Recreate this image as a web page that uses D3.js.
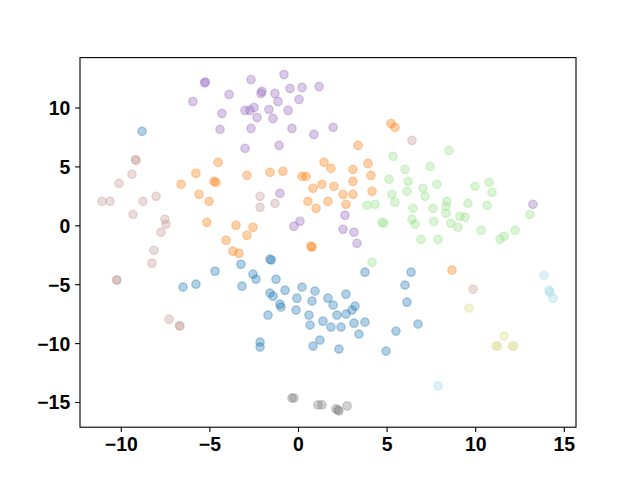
<!DOCTYPE html>
<html>
<head>
<meta charset="utf-8">
<script src="https://cdn.jsdelivr.net/npm/d3@7"></script>
<style>
  body { margin: 0; background: #fff; }
  .tick text { font-family: "Liberation Sans", Arial, sans-serif; font-weight: bold; font-size: 19.4px; fill: #000; }
</style>
</head>
<body>
<div id="chart"></div>
<script>
// cluster points, [x, y]
var blueCluster = [[-8.80,7.97],[-4.68,-3.90],[-3.22,-3.31],[-6.49,-5.25],[-5.76,-5.00],[-3.16,-5.17],
  [-1.58,-2.88],[-1.50,-2.95],[-2.54,-4.15],[-2.37,-4.58],[-1.24,-4.58],[-1.58,-5.76],[-1.41,-6.02],
  [-0.73,-5.51],[0.23,-5.25],[0.96,-5.59],[-0.06,-6.19],[0.79,-6.44],[1.69,-6.19],[1.98,-6.78],
  [2.71,-5.85],[-1.02,-6.70],[-0.96,-6.95],[-0.11,-7.20],[-1.69,-7.63],[0.62,-7.63],[1.41,-8.14],
  [2.20,-7.63],[2.71,-7.54],[3.05,-7.20],[3.22,-6.86],[0.68,-8.47],[1.86,-8.64],[2.43,-8.64],
  [3.16,-8.31],[3.44,-9.24],[-2.14,-9.92],[-2.14,-10.34],[1.24,-9.75],[0.85,-10.25],[2.31,-10.51],
  [3.78,-3.98],[6.38,-3.98],[6.04,-5.08],[6.15,-6.53],[3.78,-8.22],[5.53,-8.98],[6.77,-8.39],[4.97,-10.68]];

var orangeCluster = [[-4.51,5.34],[-5.76,4.41],[-4.74,3.73],[-4.63,3.64],[-6.60,3.47],[-2.88,4.24],
  [5.25,8.64],[5.47,8.31],[3.39,6.78],[1.47,5.34],[1.86,4.83],[3.10,4.75],[3.95,5.25],[-1.58,4.49],
  [-0.85,4.58],[0.23,4.15],[0.45,4.15],[3.10,3.73],[4.12,4.24],[0.85,3.14],[1.35,3.47],[2.03,3.31],
  [2.54,2.63],[3.10,2.63],[4.18,2.88],[0.56,2.03],[1.02,1.44],[1.69,2.03],[2.71,1.78],[-2.54,-0.17],
  [-2.88,-0.85],[0.73,-1.78],[0.79,-1.86],[-5.59,2.63],[-5.02,2.03],[-5.14,0.25],[-3.50,0.00],
  [-4.06,-1.27],[-3.67,-2.20],[-3.33,-2.37],[8.69,-3.81]];

var greenCluster = [[5.36,5.85],[8.52,6.36],[6.04,4.75],[7.45,5.00],[5.14,3.90],[6.21,3.73],[7.84,3.47],
  [7.05,3.14],[6.15,2.88],[5.30,2.63],[7.17,2.46],[5.47,1.95],[9.99,3.31],[10.78,3.64],[10.95,2.80],
  [8.41,2.03],[9.59,1.86],[10.67,1.69],[6.49,1.44],[7.62,1.44],[8.35,1.61],[8.35,1.02],[6.43,0.51],
  [6.60,0.08],[7.67,0.34],[8.63,0.17],[9.14,0.76],[9.42,0.68],[9.03,-0.17],[10.33,-0.42],[6.94,-1.19],
  [7.90,-1.19],[11.40,-1.19],[11.63,-0.93],[12.25,-0.42],[13.09,0.93],[3.89,1.69],[4.35,1.78],
  [4.74,0.25],[4.85,0.17],[4.18,-3.14]];

var purpleCluster = [[-5.22,12.15],[-5.28,12.10],[-3.89,11.10],[-5.93,10.51],[-4.29,9.49],[-4.40,8.14],
  [-2.65,12.37],[-0.79,12.80],[-2.03,11.36],[-2.09,11.19],[-1.30,11.19],[-0.45,11.61],[0.23,11.70],
  [1.19,11.78],[-1.13,10.51],[0.06,10.68],[-2.99,9.75],[-2.71,9.75],[-2.48,10.00],[-1.64,9.83],
  [-0.56,9.75],[-2.31,9.15],[-1.41,9.07],[-2.65,8.22],[-0.34,8.22],[0.90,7.71],[1.98,8.31],
  [-2.99,6.53],[-1.07,6.78],[-1.02,2.71],[0.11,0.34],[-0.23,-0.08],[2.65,0.85],[2.54,-0.34],
  [3.16,-0.59],[3.33,-1.53],[13.26,1.78]];

var brownCluster = [[-9.14,5.51],[-9.17,5.58],[-9.37,4.32],[-10.10,3.56],[-11.06,2.03],[-10.61,2.03],
  [-8.75,2.03],[-8.01,2.46],[-9.31,0.93],[-7.51,0.51],[-7.45,0.08],[-7.73,-0.59],[-8.13,-2.12],
  [-8.24,-3.22],[-10.21,-4.66],[-10.24,-4.63],[-2.14,2.46],[-2.14,1.53],[-1.30,1.86],[-7.28,-7.97],
  [-6.66,-8.56],[-6.69,-8.53],[6.43,7.20],[9.88,-5.42]];

var greyCluster = [[-0.34,-14.66],[-0.23,-14.66],[1.13,-15.25],[1.35,-15.25],[2.14,-15.59],
  [2.26,-15.68],[2.31,-15.76],[2.77,-15.34]];

var oliveCluster = [[9.65,-7.03],[11.63,-9.41],[11.17,-10.25],[11.29,-10.25],[12.08,-10.25],[12.19,-10.25]];

var cyanCluster = [[13.88,-4.24],[14.16,-5.51],[14.22,-5.68],[14.39,-6.19],[7.90,-13.64]];

var xTicks = [-10, -5, 0, 5, 10, 15];
var yTicks = [-15, -10, -5, 0, 5, 10];

var clusters = [
  { pts: blueCluster, color: "#1f77b4" },
  { pts: orangeCluster, color: "#ff7f0e" },
  { pts: greenCluster, color: "#98df8a" },
  { pts: purpleCluster, color: "#9467bd" },
  { pts: brownCluster, color: "#c49c94" },
  { pts: greyCluster, color: "#7f7f7f" },
  { pts: oliveCluster, color: "#dbdb8d" },
  { pts: cyanCluster, color: "#9edae5" }
];

var W = 640, H = 480;
var margin = { top: 57.6, right: 64, bottom: 52.8, left: 80 };

var svg = d3.select("#chart").append("svg")
    .attr("width", W)
    .attr("height", H);

var xScale = d3.scaleLinear()
    .domain([-12.302, 15.689])
    .range([margin.left, W - margin.right]);

var yScale = d3.scaleLinear()
    .domain([-17.139, 14.236])
    .range([H - margin.bottom, margin.top]);

var fmt = function (d) { return d < 0 ? "\u2212" + Math.abs(d) : "" + d; };

// points
var dots = svg.append("g").attr("class", "dots");
clusters.forEach(function (c) {
    dots.selectAll(null)
        .data(c.pts)
        .enter()
        .append("circle")
        .attr("cx", function (d) { return xScale(d[0]); })
        .attr("cy", function (d) { return yScale(d[1]); })
        .attr("r", 4.17)
        .attr("fill", c.color)
        .attr("fill-opacity", 0.35)
        .attr("stroke", c.color)
        .attr("stroke-opacity", 0.35)
        .attr("stroke-width", 1.39);
});

// axes
var xAxis = svg.append("g")
    .attr("transform", "translate(0," + (H - margin.bottom) + ")")
    .call(d3.axisBottom(xScale).tickValues(xTicks).tickFormat(fmt).tickSize(4.9).tickPadding(4.9));

var yAxis = svg.append("g")
    .attr("transform", "translate(" + margin.left + ",0)")
    .call(d3.axisLeft(yScale).tickValues(yTicks).tickFormat(fmt).tickSize(4.9).tickPadding(4.9));

[xAxis, yAxis].forEach(function (g) {
    g.select(".domain").remove();
    g.selectAll(".tick line").attr("stroke", "#000").attr("stroke-width", 1.1);
    g.selectAll(".tick text").attr("font-family", null).attr("font-size", null);
});
xAxis.selectAll(".tick text").attr("dy", "0.72em");
yAxis.selectAll(".tick text").attr("dy", "0.36em");

// frame
svg.append("rect")
    .attr("x", margin.left)
    .attr("y", margin.top)
    .attr("width", W - margin.left - margin.right)
    .attr("height", H - margin.top - margin.bottom)
    .attr("fill", "none")
    .attr("stroke", "#000")
    .attr("stroke-width", 1.1);
</script>
</body>
</html>
